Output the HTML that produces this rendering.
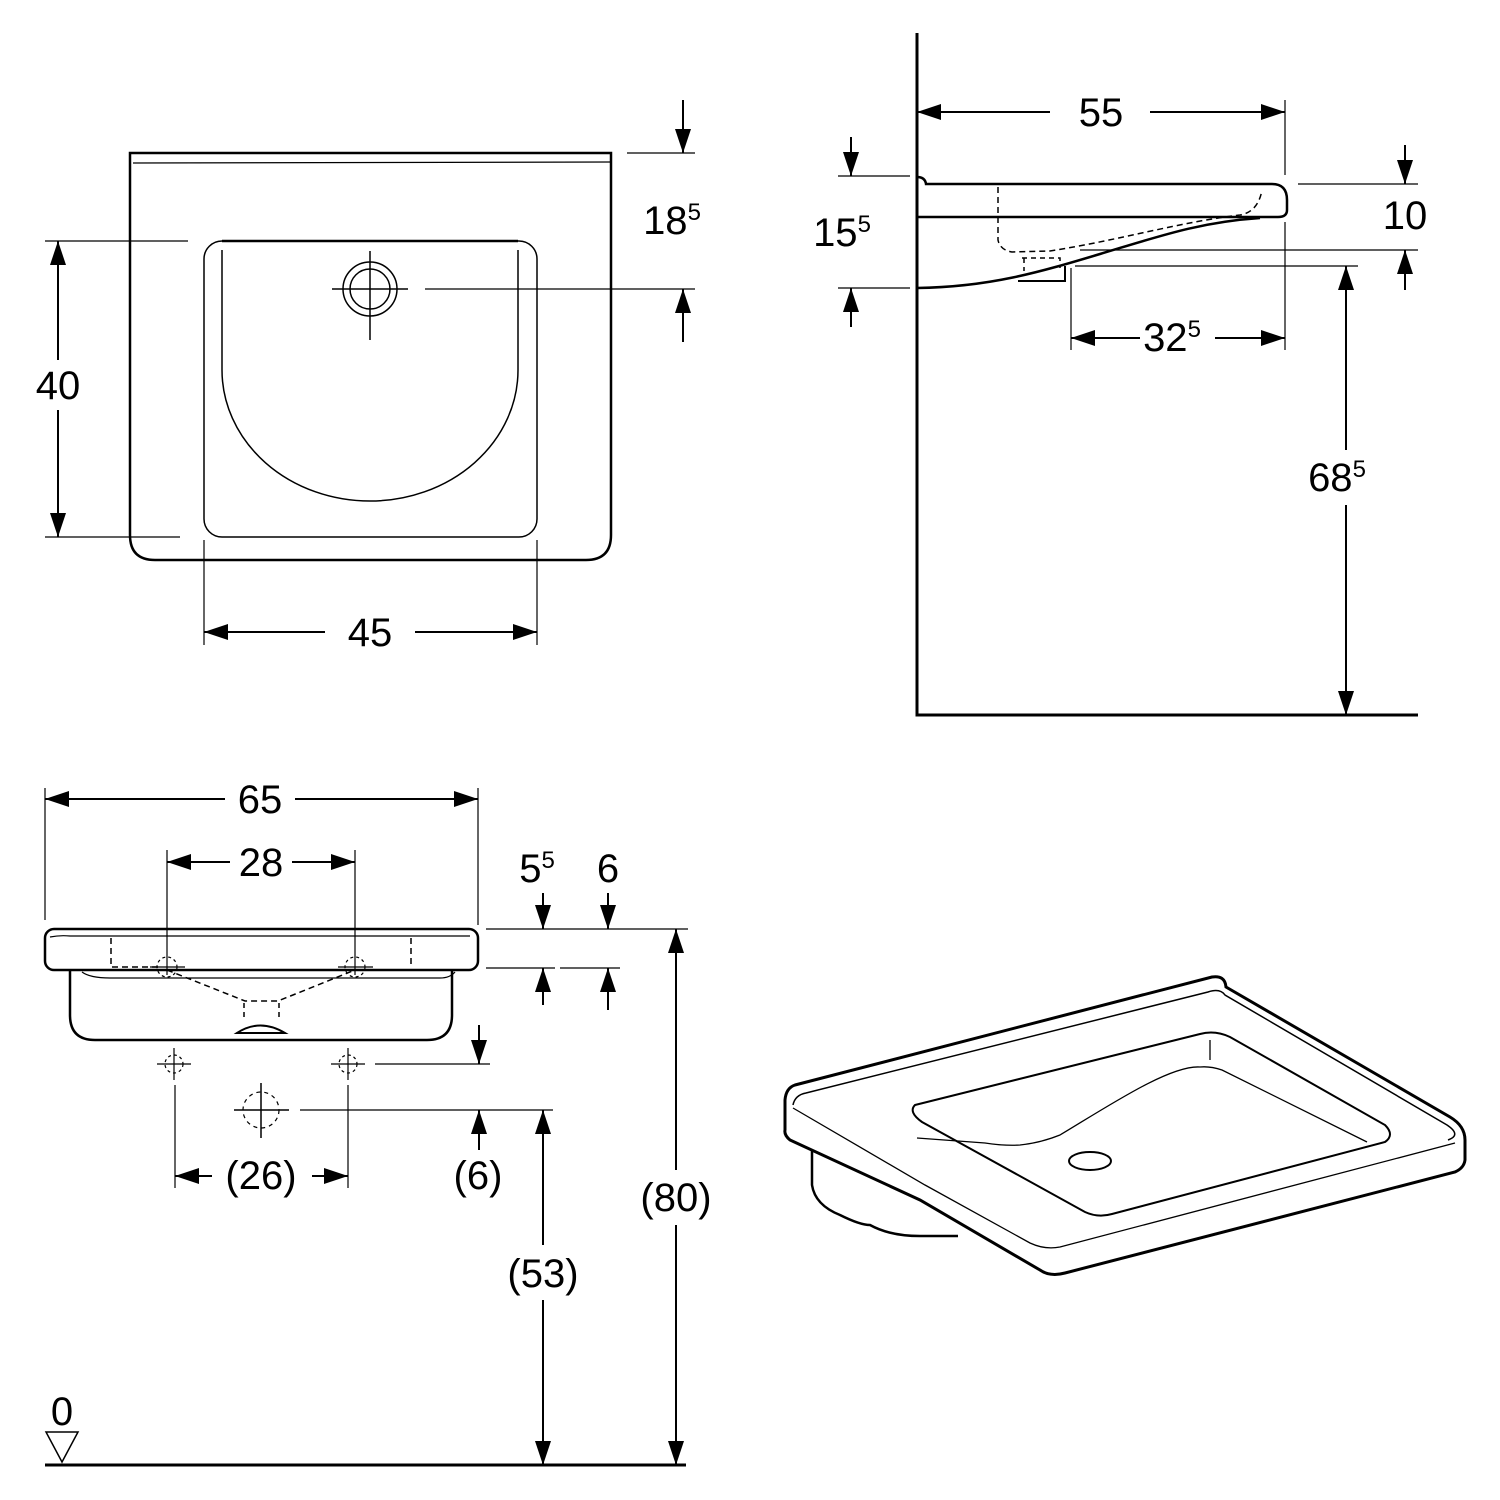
<!DOCTYPE html>
<html><head><meta charset="utf-8"><style>
html,body{margin:0;padding:0;background:#fff}
svg{display:block}
text{font-family:"Liberation Sans",sans-serif;font-size:40px;fill:#000;text-anchor:middle}
</style></head><body>
<svg width="1500" height="1500" viewBox="0 0 1500 1500" xmlns="http://www.w3.org/2000/svg">
<defs>
<marker id="a" viewBox="0 0 24 16" refX="24" refY="8" markerWidth="24" markerHeight="16" markerUnits="userSpaceOnUse" orient="auto-start-reverse"><path d="M0,0 L24,8 L0,16Z" fill="#000"/></marker>
</defs>
<g fill="none" stroke="#000" stroke-width="2">
<!-- TOP LEFT -->
<path d="M130,153 V535 Q130,560 155,560 H586 Q611,560 611,535 V153 Z" stroke-width="2.5"/>
<path d="M133,163 L611,162" stroke-width="1.2"/>
<rect x="204" y="241" width="333" height="296" rx="18" stroke-width="1.5"/>
<path d="M222,250 V370 A148,131 0 0 0 518,370 V250" stroke-width="1.5"/>
<path d="M222,241 H518" stroke-width="2.5"/>
<circle cx="370" cy="289" r="27" stroke-width="1.5"/>
<circle cx="370" cy="289" r="20" stroke-width="1.5"/>
<path d="M332,289 H408 M370,251 V340" stroke-width="1.5"/>
<path d="M45,241 H188 M45,537 H180" stroke-width="1.2"/>
<path d="M58,360 V241" marker-end="url(#a)"/>
<path d="M58,410 V537" marker-end="url(#a)"/>
<path d="M204,540 V645 M537,540 V645" stroke-width="1.2"/>
<path d="M204,632 H325 M415,632 H537" marker-start="url(#a)" marker-end="url(#a)"/>
<path d="M627,153 H695 M425,289 H695" stroke-width="1.2"/>
<path d="M683,100 V153" marker-end="url(#a)"/>
<path d="M683,342 V289" marker-end="url(#a)"/>
<!-- TOP RIGHT -->
<path d="M917,33 V715 H1418" stroke-width="3"/>
<path d="M917,177 Q925,177 926,184 H1272 Q1287,184 1287,200 V210 Q1287,217 1278,217 H917" stroke-width="2.5"/>
<path d="M917,288 C990,287 1040,272 1100,254 C1160,236 1200,222 1260,218" stroke-width="2.5"/>
<path d="M998,187 V240 Q1000,250 1012,252 L1050,251 C1120,240 1180,222 1240,215 Q1258,212 1262,190" stroke-width="1.5" stroke-dasharray="6,4"/>
<path d="M1024,258 V271 M1022,258 H1060 V268" stroke-width="1.5" stroke-dasharray="5,4"/>
<path d="M1018,281 H1065 V266" stroke-width="2"/>
<path d="M917,112 H1050 M1150,112 H1285" marker-start="url(#a)" marker-end="url(#a)"/>
<path d="M1285,100 V175 M1285,222 V350" stroke-width="1.2"/>
<path d="M1298,184 H1418 M1080,250 H1418 M1075,266 H1358" stroke-width="1.2"/>
<path d="M1405,145 V184" marker-end="url(#a)"/>
<path d="M1405,290 V250" marker-end="url(#a)"/>
<path d="M838,176 H910 M838,288 H910" stroke-width="1.2"/>
<path d="M851,137 V176" marker-end="url(#a)"/>
<path d="M851,327 V288" marker-end="url(#a)"/>
<path d="M1071,268 V350" stroke-width="1.2"/>
<path d="M1071,338 H1140 M1215,338 H1285" marker-start="url(#a)" marker-end="url(#a)"/>
<path d="M1346,266 V450 M1346,505 V715" />
<path d="M1346,300 V266" marker-end="url(#a)"/>
<path d="M1346,680 V715" marker-end="url(#a)"/>
<!-- BOTTOM LEFT -->
<rect x="45" y="929" width="433" height="41" rx="9" stroke-width="2.5"/>
<path d="M50,937 Q60,935 70,936 H470" stroke-width="1.2"/>
<path d="M70,970 V1015 Q70,1040 95,1040 H427 Q452,1040 452,1015 V970" stroke-width="2.5"/>
<path d="M82,972 Q90,978 110,978 H440 Q450,978 455,972" stroke-width="1.2"/>
<path d="M111,938 V967 H160 M411,938 V967 M167,970 L245,1001 H278 L355,970" stroke-width="1.5" stroke-dasharray="6,4"/>
<path d="M244,1003 V1018 M279,1003 V1018" stroke-width="1.5" stroke-dasharray="5,4"/>
<path d="M237,1033 Q260,1018 285,1033 V1033 H237 Z" stroke-width="2"/>
<circle cx="167" cy="967" r="10" stroke-width="1.2" stroke-dasharray="3,3"/>
<circle cx="355" cy="967" r="10" stroke-width="1.2" stroke-dasharray="3,3"/>
<path d="M150,967 H185 M338,967 H373" stroke-width="1.2"/>
<circle cx="174" cy="1064" r="9" stroke-width="1.2" stroke-dasharray="3,3"/>
<circle cx="348" cy="1064" r="9" stroke-width="1.2" stroke-dasharray="3,3"/>
<path d="M157,1064 H191 M174,1048 V1080 M331,1064 H365 M348,1048 V1080" stroke-width="1.2"/>
<circle cx="261" cy="1110" r="18" stroke-width="1.2" stroke-dasharray="4,4"/>
<path d="M234,1110 H289 M261,1083 V1138" stroke-width="1.5"/>
<path d="M45,788 V920 M478,788 V925 M167,850 V975 M355,850 V975" stroke-width="1.2"/>
<path d="M45,799 H225 M295,799 H478" marker-start="url(#a)" marker-end="url(#a)"/>
<path d="M167,862 H230 M292,862 H355" marker-start="url(#a)" marker-end="url(#a)"/>
<path d="M486,929 H688 M486,968 H555 M560,968 H620" stroke-width="1.2"/>
<path d="M543,893 V929" marker-end="url(#a)"/>
<path d="M608,893 V929" marker-end="url(#a)"/>
<path d="M543,1005 V968" marker-end="url(#a)"/>
<path d="M608,1010 V968" marker-end="url(#a)"/>
<path d="M375,1064 H490 M300,1110 H553" stroke-width="1.2"/>
<path d="M479,1025 V1064" marker-end="url(#a)"/>
<path d="M479,1150 V1110" marker-end="url(#a)"/>
<path d="M175,1085 V1188 M348,1085 V1188" stroke-width="1.2"/>
<path d="M175,1176 H212 M312,1176 H348" marker-start="url(#a)" marker-end="url(#a)"/>
<path d="M543,1110 V1245 M543,1300 V1465" marker-start="url(#a)" marker-end="url(#a)"/>
<path d="M676,929 V1170 M676,1225 V1465" marker-start="url(#a)" marker-end="url(#a)"/>
<path d="M45,1465 H686" stroke-width="3"/>
<path d="M46,1432 H78 L62,1462 Z" stroke-width="1.5"/>
<!-- ISO -->
<path d="M795,1085 L1212,977 Q1225,975 1226,987 L1450,1117 Q1465,1126 1465,1140 V1160 Q1464,1168 1455,1172 L1065,1273 Q1050,1277 1040,1270 L920,1200 L790,1140 Q784,1135 785,1130 V1100 Q786,1088 795,1085 Z" stroke-width="3"/>
<path d="M793,1105 Q795,1095 806,1093 L1208,992 Q1220,988 1225,995 L1447,1125 Q1462,1135 1448,1140" stroke-width="1.5"/>
<path d="M793,1108 L925,1185 L1030,1243 Q1045,1250 1060,1247 L1455,1143" stroke-width="1.3"/>
<path d="M915,1105 L1200,1034 Q1215,1030 1230,1037 L1385,1125 Q1395,1135 1385,1142 L1112,1214 Q1098,1218 1085,1212 L922,1122 Q908,1112 915,1105 Z" stroke-width="2"/>
<path d="M1210,1040 V1060" stroke-width="1.3"/>
<path d="M917,1138 L985,1143 Q1005,1146 1020,1145 Q1040,1143 1060,1135 C1110,1105 1170,1065 1200,1067 Q1210,1066 1222,1070 L1367,1142" stroke-width="1.3"/>
<ellipse cx="1090" cy="1161" rx="21" ry="9" stroke-width="2"/>
<path d="M812,1150 V1185 Q815,1205 840,1215 Q860,1225 870,1225 Q890,1236 920,1236 H958" stroke-width="2.5"/>
</g>
<text x="58" y="399">40</text>
<text x="370" y="646">45</text>
<text x="672" y="234">18<tspan font-size="24" dy="-14">5</tspan></text>
<text x="1101" y="126">55</text>
<text x="1405" y="229">10</text>
<text x="842" y="246">15<tspan font-size="24" dy="-14">5</tspan></text>
<text x="1172" y="351">32<tspan font-size="24" dy="-14">5</tspan></text>
<text x="1337" y="491">68<tspan font-size="24" dy="-14">5</tspan></text>
<text x="260" y="813">65</text>
<text x="261" y="876">28</text>
<text x="537" y="882">5<tspan font-size="24" dy="-14">5</tspan></text>
<text x="608" y="882">6</text>
<text x="478" y="1189">(6)</text>
<text x="261" y="1189">(26)</text>
<text x="543" y="1287">(53)</text>
<text x="676" y="1211">(80)</text>
<text x="62" y="1425">0</text>
</svg>
</body></html>
